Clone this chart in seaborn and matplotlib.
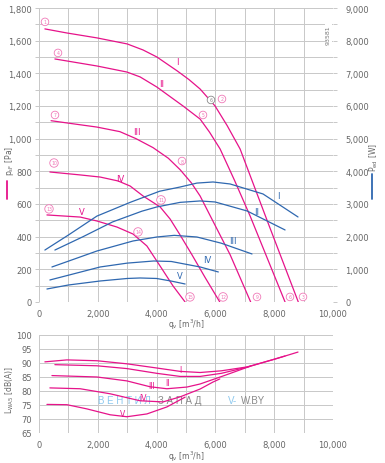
import numpy as np
import pandas as pd
import seaborn as sns
import matplotlib
matplotlib.use('Agg')
import matplotlib.pyplot as plt
from matplotlib.ticker import FuncFormatter, MultipleLocator
from matplotlib.lines import Line2D

# --- data ---
# pressure curves p_sF [Pa] over q_v [m3/h]
q_p1 = [200, 950, 1970, 3000, 3540, 4010, 4700, 5100, 5480, 5990, 6400, 6840, 7800, 8820]
p_p1 = [1672, 1647, 1617, 1580, 1543, 1500, 1415, 1362, 1304, 1200, 1080, 937, 480, 0]
q_p2 = [540, 1970, 2990, 3440, 4010, 4900, 5480, 5800, 6160, 6650, 7180, 8370]
p_p2 = [1488, 1445, 1408, 1378, 1316, 1200, 1120, 1040, 937, 745, 527, 0]
q_p3 = [410, 1000, 1970, 2750, 3300, 3880, 4400, 4800, 5180, 5480, 5880, 6500, 7200]
p_p3 = [1110, 1095, 1071, 1043, 1000, 945, 880, 810, 730, 649, 508, 290, 0]
q_p4 = [370, 1400, 2080, 2690, 3100, 3540, 4120, 4460, 4800, 5200, 5650, 6150]
p_p4 = [796, 778, 765, 741, 710, 649, 582, 508, 410, 290, 150, 0]
q_p5 = [270, 1400, 1970, 2650, 3200, 3670, 4120, 4560, 4970]
p_p5 = [533, 520, 496, 459, 416, 343, 220, 98, 0]

# power curves P_ed [W]
q_w1 = [200, 1000, 1970, 3100, 4100, 4800, 5370, 5920, 6500, 7620, 8810]
w_w1 = [1590, 2050, 2630, 3050, 3390, 3520, 3640, 3674, 3613, 3307, 2603]
q_w2 = [540, 1500, 2500, 3500, 4010, 4800, 5480, 5990, 7080, 8370]
w_w2 = [1590, 2000, 2450, 2780, 2910, 3050, 3093, 3062, 2786, 2205]
q_w3 = [440, 1000, 1970, 3200, 4010, 4600, 5370, 6200, 7245]
w_w3 = [1072, 1250, 1561, 1868, 1990, 2040, 1990, 1800, 1470]
q_w4 = [370, 1000, 2080, 3000, 3900, 4500, 5480, 6100]
w_w4 = [674, 820, 1072, 1190, 1255, 1240, 1072, 919]
q_w5 = [270, 1000, 2080, 3000, 3440, 4000, 4500, 4970]
w_w5 = [398, 520, 643, 720, 735, 720, 640, 551]

# sound power L_WA5 [dB(A)]
q_s1 = [200, 950, 1970, 2990, 4010, 4800, 5480, 6200, 7080, 8000, 8810]
s_s1 = [90.4, 91.1, 90.8, 89.7, 88.2, 87.0, 86.6, 87.2, 88.6, 91.3, 93.9]
q_s2 = [540, 1970, 2990, 4010, 4800, 5480, 6200, 7080, 8370]
s_s2 = [89.4, 89.0, 88.0, 86.3, 85.2, 85.2, 86.3, 88.5, 92.5]
q_s3 = [440, 1970, 2990, 3780, 4350, 5030, 5480, 6300, 7200]
s_s3 = [85.5, 85.0, 83.6, 81.5, 80.8, 81.4, 82.5, 85.5, 88.9]
q_s4 = [370, 1400, 2420, 3440, 4220, 4800, 5480, 5920, 6150]
s_s4 = [81.1, 80.8, 79.0, 76.5, 76.1, 77.9, 80.7, 83.2, 84.3]
q_s5 = [270, 950, 1630, 2420, 2990, 3670, 4350, 4970]
s_s5 = [75.2, 75.1, 73.6, 71.5, 70.8, 71.8, 74.3, 77.8]

roman = ['I', 'II', 'III', 'IV', 'V']

# label positions
lab_p_q = [4694, 4184, 3333, 2755, 1463]
lab_p_v = [1470, 1335, 1041, 759, 551]
lab_w_q = [8129, 7415, 6599, 5714, 4796]
lab_w_v = [3246, 2756, 1868, 1286, 796]
lab_s_q = [4796, 4354, 3844, 3537, 2857]
lab_s_v = [87.5, 83.2, 81.8, 77.5, 72.1]

pt_num = list(range(1, 16))
pt_q = [204, 6224, 8980, 646, 5578, 8537, 544, 4864, 7415, 510, 4150, 6259, 340, 3367, 5136]
pt_v = [1715, 1243, 31, 1525, 1145, 31, 1145, 863, 31, 851, 625, 31, 570, 429, 31]

PINK = '#e6138a'
BLUE = '#2f68b0'
GRID = '#c8c8c8'
TXT = '#666666'


def long_df(qs, vs):
    frames = []
    for name, q, v in zip(roman, qs, vs):
        frames.append(pd.DataFrame({'q': q, 'v': v, 'curve': name}))
    return pd.concat(frames, ignore_index=True)


df_p = long_df([q_p1, q_p2, q_p3, q_p4, q_p5], [p_p1, p_p2, p_p3, p_p4, p_p5])
df_w = long_df([q_w1, q_w2, q_w3, q_w4, q_w5], [w_w1, w_w2, w_w3, w_w4, w_w5])
df_s = long_df([q_s1, q_s2, q_s3, q_s4, q_s5], [s_s1, s_s2, s_s3, s_s4, s_s5])

sns.set_style('white')
plt.rcParams['font.family'] = ['DejaVu Sans']
plt.rcParams['font.size'] = 6

fig = plt.figure(figsize=(3.85, 4.64), dpi=100)
ax1 = fig.add_axes([0.1013, 0.347, 0.7636, 0.6336])
ax3 = fig.add_axes([0.1013, 0.0647, 0.7636, 0.2112])

thousands = FuncFormatter(lambda v, _: f'{v:,.0f}')


def style_axis(ax):
    for s in ax.spines.values():
        s.set_visible(False)
    ax.grid(True, which='both', color=GRID, lw=0.7)
    ax.tick_params(which='both', length=3, width=0.7, color=GRID,
                   labelsize=6, labelcolor=TXT, pad=2)
    ax.set_axisbelow(True)


# top chart: pressure
sns.lineplot(data=df_p, x='q', y='v', hue='curve', palette=[PINK] * 5,
             sort=False, estimator=None, legend=False, lw=0.9, ax=ax1)
ax1.set_xlim(0, 10000)
ax1.set_ylim(0, 1800)
ax1.xaxis.set_major_locator(MultipleLocator(2000))
ax1.xaxis.set_minor_locator(MultipleLocator(1000))
ax1.yaxis.set_major_locator(MultipleLocator(200))
ax1.yaxis.set_minor_locator(MultipleLocator(100))
ax1.xaxis.set_major_formatter(thousands)
ax1.yaxis.set_major_formatter(thousands)
ax1.set_xlabel('')
ax1.set_ylabel('')
style_axis(ax1)

for name, x, y in zip(roman, lab_p_q, lab_p_v):
    ax1.text(x, y, name, color=PINK, fontsize=6, ha='center', va='center')
for n, x, y in zip(pt_num, pt_q, pt_v):
    ax1.text(x, y, str(n), color='#f07ab8', fontsize=3.3, ha='center', va='center',
             bbox=dict(boxstyle='circle,pad=0.28', fc='white', ec='#f07ab8', lw=0.6), zorder=5)
ax1.text(5850, 1237, '6', color='#888888', fontsize=3.3, ha='center', va='center',
         bbox=dict(boxstyle='circle,pad=0.28', fc='white', ec='#888888', lw=0.6), zorder=5)
ax1.text(9850, 1640, '93581', color='#777777', fontsize=4.5, rotation=90,
         ha='center', va='center', bbox=dict(fc='white', ec='none', pad=0.5))

# power on the right axis
ax2 = ax1.twinx()
sns.lineplot(data=df_w, x='q', y='v', hue='curve', palette=[BLUE] * 5,
             sort=False, estimator=None, legend=False, lw=0.9, ax=ax2)
ax2.set_ylim(0, 9000)
ax2.yaxis.set_major_locator(MultipleLocator(1000))
ax2.yaxis.set_minor_locator(MultipleLocator(500))
ax2.yaxis.set_major_formatter(thousands)
ax2.set_ylabel('')
for s in ax2.spines.values():
    s.set_visible(False)
ax2.grid(False)
ax2.tick_params(which='both', length=3, width=0.7, color=GRID,
                labelsize=6, labelcolor=TXT, pad=6)
for name, x, y in zip(roman, lab_w_q, lab_w_v):
    ax2.text(x, y, name, color=BLUE, fontsize=6, ha='center', va='center')

# bottom chart: sound power
sns.lineplot(data=df_s, x='q', y='v', hue='curve', palette=[PINK] * 5,
             sort=False, estimator=None, legend=False, lw=0.9, ax=ax3)
ax3.set_xlim(0, 10000)
ax3.set_ylim(65, 100)
ax3.xaxis.set_major_locator(MultipleLocator(2000))
ax3.xaxis.set_minor_locator(MultipleLocator(1000))
ax3.yaxis.set_major_locator(MultipleLocator(5))
ax3.xaxis.set_major_formatter(thousands)
ax3.set_xlabel('')
ax3.set_ylabel('')
style_axis(ax3)
for name, x, y in zip(roman, lab_s_q, lab_s_v):
    ax3.text(x, y, name, color=PINK, fontsize=5.5, ha='center', va='center')

# watermark
wm = dict(fontsize=7, va='center', family='Liberation Sans', zorder=1)
ax3.text(1990, 76.8, 'В Е Н Т И Л', color='#8cc8ee', ha='left', **wm)
ax3.text(4050, 76.8, 'З А П А Д', color='#8a8a8a', ha='left', **wm)
ax3.text(6430, 76.8, 'V-', color='#8cc8ee', ha='left', **wm)
ax3.text(6880, 76.8, 'W.BY', color='#8a8a8a', ha='left', **wm)

# axis titles placed like the datasheet
fig.text(186 / 385, 1 - 325 / 464, r'q$_\mathregular{v}$ [m$^3$/h]', color=TXT,
         fontsize=5.5, ha='center', va='center')
fig.text(186 / 385, 1 - 457 / 464, r'q$_\mathregular{v}$ [m$^3$/h]', color=TXT,
         fontsize=5.5, ha='center', va='center')
fig.text(10 / 385, 1 - 161 / 464, r'p$_\mathregular{sF}$ [Pa]', color=TXT,
         fontsize=5.5, rotation=90, ha='center', va='center')
fig.text(374 / 385, 1 - 158 / 464, r'P$_\mathregular{ed}$ [W]', color=TXT,
         fontsize=5.5, rotation=90, ha='center', va='center')
fig.text(10 / 385, 1 - 390 / 464, r'L$_\mathregular{WA5}$ [dB(A)]', color=TXT,
         fontsize=5.5, rotation=90, ha='center', va='center')
fig.add_artist(Line2D([7 / 385, 7 / 385], [1 - 182 / 464, 1 - 200 / 464], color=PINK, lw=1.3))
fig.add_artist(Line2D([372 / 385, 372 / 385], [1 - 175 / 464, 1 - 200 / 464], color=BLUE, lw=1.3))

fig.savefig('out.png', dpi=100)
